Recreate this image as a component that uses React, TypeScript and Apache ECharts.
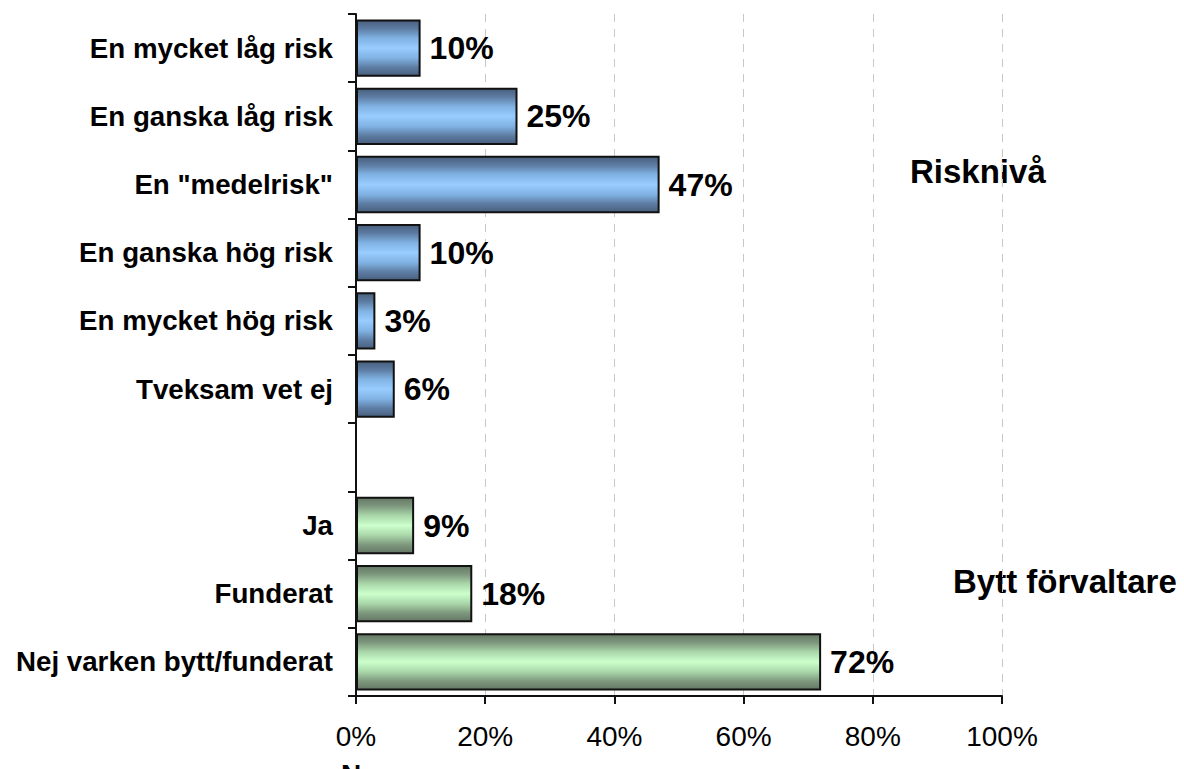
import React, { useEffect, useRef } from "react";
import * as echarts from "echarts";

const categories = [
  "En mycket låg risk",
  "En ganska låg risk",
  'En "medelrisk"',
  "En ganska hög risk",
  "En mycket hög risk",
  "Tveksam vet ej",
  "",
  "Ja",
  "Funderat",
  "Nej varken bytt/funderat",
];
const values: (number | null)[] = [10, 25, 47, 10, 3, 6, null, 9, 18, 72];
const groups = ["risk", "risk", "risk", "risk", "risk", "risk", "", "byte", "byte", "byte"];
const xTicks = [0, 20, 40, 60, 80, 100];
const groupTitles = ["Risknivå", "Bytt förvaltare"];

const FONT = "'Liberation Sans', Arial, sans-serif";

function grad(c0: string, c1: string, c2: string, c3: string) {
  return new echarts.graphic.LinearGradient(0, 0, 0, 1, [
    { offset: 0, color: c0 },
    { offset: 0.15, color: c1 },
    { offset: 0.32, color: c2 },
    { offset: 0.5, color: c3 },
    { offset: 0.68, color: c2 },
    { offset: 0.85, color: c1 },
    { offset: 1, color: c0 },
  ]);
}

export default function App() {
  const ref = useRef<HTMLDivElement>(null);
  useEffect(() => {
    if (!ref.current) return;
    const chart = echarts.init(ref.current, null, { renderer: "svg" });
    const blue = grad("#485f7e", "#5d7ca2", "#80b2e3", "#99ccff");
    const green = grad("#647764", "#7d977d", "#a9d6a9", "#ccffcc");
    const data = values.map((v, i) => ({
      value: v,
      itemStyle: {
        color: groups[i] === "byte" ? green : blue,
        borderColor: "#111",
        borderWidth: 2,
      },
    }));
    chart.setOption({
      animation: false,
      grid: { left: 356, right: 182, top: 14, bottom: 73, containLabel: false },
      xAxis: {
        type: "value",
        min: xTicks[0],
        max: xTicks[xTicks.length - 1],
        interval: 20,
        axisLine: { show: true, lineStyle: { color: "#111", width: 2 } },
        axisTick: { show: true, length: 8, lineStyle: { color: "#111", width: 2 } },
        axisLabel: {
          formatter: "{value}%",
          color: "#000",
          fontSize: 28,
          fontFamily: FONT,
          margin: 26,
        },
        splitLine: {
          show: true,
          lineStyle: { color: "#c8c8c8", type: [8, 7], width: 1 },
        },
      },
      yAxis: {
        type: "category",
        inverse: true,
        data: categories,
        axisLine: { show: true, lineStyle: { color: "#111", width: 2 } },
        axisTick: { show: true, length: 8, lineStyle: { color: "#111", width: 2 } },
        axisLabel: {
          color: "#000",
          fontSize: 27.7,
          fontWeight: "bold",
          fontFamily: FONT,
          margin: 23,
        },
        splitLine: { show: false },
      },
      series: [
        {
          type: "bar",
          data,
          barCategoryGap: "16%",
          label: {
            show: true,
            position: "right",
            distance: 9,
            formatter: (p: any) => (p.value == null ? "" : p.value + "%"),
            color: "#000",
            fontSize: 32,
            fontWeight: "bold",
            fontFamily: FONT,
          },
        },
      ],
      graphic: [
        {
          type: "text",
          left: 910,
          top: 155,
          style: { text: groupTitles[0], fontSize: 33, fontWeight: "bold", fontFamily: FONT, fill: "#000" },
        },
        {
          type: "text",
          left: 953,
          top: 565,
          style: { text: groupTitles[1], fontSize: 33, fontWeight: "bold", fontFamily: FONT, fill: "#000" },
        },
        {
          type: "text",
          left: 341,
          top: 760,
          style: { text: "N", fontSize: 28, fontWeight: "bold", fontFamily: FONT, fill: "#000" },
        },
      ],
    });
    return () => chart.dispose();
  }, []);
  return (
    <div
      ref={ref}
      style={{ position: "absolute", left: 0, top: 0, width: 1184, height: 769, background: "#fff" }}
    />
  );
}
